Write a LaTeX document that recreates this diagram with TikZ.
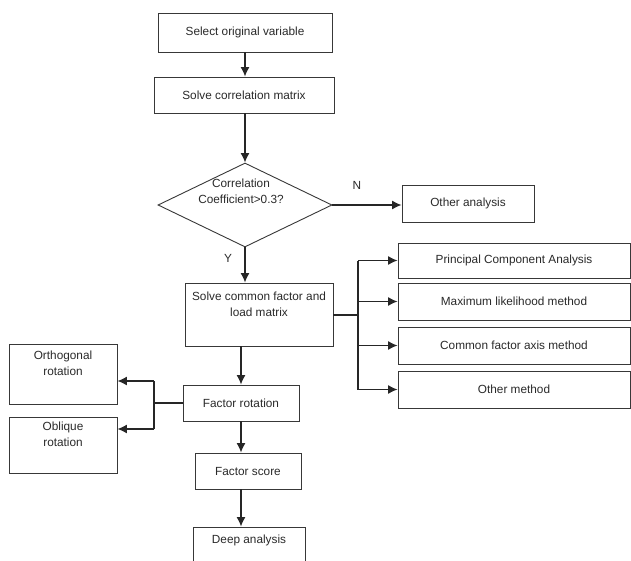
\documentclass[tikz,border=0pt]{standalone}
\usepackage{fontspec}
\setmainfont{Liberation Sans}
\usetikzlibrary{shapes.geometric,arrows.meta}
\definecolor{boxline}{HTML}{383838}
\definecolor{txt}{HTML}{2A2A2A}
\tikzset{
  box/.style={draw=boxline, line width=0.9pt, rectangle, inner sep=0pt, align=center,
    text=txt, font=\fontsize{11.8}{16}\selectfont},
  lbl/.style={text=txt, inner sep=0pt, font=\fontsize{11.8}{16}\selectfont, align=center},
  conn/.style={draw=black!85, line width=1.3pt},
  arr/.style={conn, -{Latex[length=9.5pt,width=9pt]}},
}
\begin{document}
\begin{tikzpicture}[x=1pt,y=1pt]
\useasboundingbox (0,0) rectangle (631,-561);
\fill[white] (0,0) rectangle (631,-561);

\node[box, minimum width=174pt, minimum height=39pt] (sel) at (245,-32.5) {Select original variable};
\node[box, minimum width=180pt, minimum height=36pt] (corr) at (244,-95) {Solve correlation matrix};
\node[draw=boxline, line width=0.9pt, diamond, aspect=2.07, inner sep=0pt,
      minimum width=174pt, minimum height=84pt] (dia) at (245,-205) {};
\node[lbl] (dtext) at (241,-191) {Correlation\\Coefficient>0.3?};
\node[lbl] (nlab) at (357,-185) {N};
\node[lbl] (ylab) at (228,-258) {Y};
\node[box, minimum width=132pt, minimum height=37pt] (other) at (468,-203.5) {Other analysis};

\node[box, minimum width=148pt, minimum height=63pt] (common) at (259,-314.5) {Solve common factor and\\load matrix\\ \strut};

\node[box, minimum width=232pt, minimum height=35pt] (pca) at (514,-260.5) {Principal Component Analysis};
\node[box, minimum width=232pt, minimum height=37pt] (ml) at (514,-301.5) {Maximum likelihood method};
\node[box, minimum width=232pt, minimum height=37pt] (cfa) at (514,-345.5) {Common factor axis method};
\node[box, minimum width=232pt, minimum height=37pt] (om) at (514,-389.5) {Other method};

\node[box, minimum width=116pt, minimum height=36pt] (frot) at (241,-403) {Factor rotation};
\node[box, minimum width=108pt, minimum height=60pt] (orth) at (63,-374) {Orthogonal\\rotation\\ \strut};
\node[box, minimum width=108pt, minimum height=56pt] (obl) at (63,-445) {Oblique\\rotation\\ \strut};
\node[box, minimum width=106pt, minimum height=36pt] (fscore) at (248,-471) {Factor score};
\node[box, minimum width=112pt, minimum height=46pt] (deep) at (249,-550) {Deep analysis\\ \strut};

% main flow
\draw[arr] (sel.south) -- (sel.south |- corr.north);
\draw[arr] (corr.south -| dia.north) -- (dia.north);
\draw[arr] (dia.east) -- (dia.east -| other.west);
\draw[arr] (dia.south) -- (dia.south |- common.north);

% method branch
\coordinate (mb) at (358,-315);
\coordinate (mtop) at (358,-260.5);
\coordinate (mbot) at (358,-389.5);
\draw[conn] (common.east |- mb) -- (mb);
\draw[conn] (mtop) -- (mbot);
\draw[arr] (mtop) -- (pca.west);
\draw[arr] (mtop |- ml.west) -- (ml.west);
\draw[arr] (mtop |- cfa.west) -- (cfa.west);
\draw[arr] (mbot) -- (om.west);

% rotation
\draw[arr] (frot.north |- common.south) -- (frot.north);
\coordinate (rb) at (154,-403);
\coordinate (rtop) at (154,-381);
\coordinate (rbot) at (154,-429);
\draw[conn] (frot.west) -- (rb);
\draw[conn] (rtop) -- (rbot);
\draw[arr] (rtop) -- (rtop -| orth.east);
\draw[arr] (rbot) -- (rbot -| obl.east);

\draw[arr] (frot.south) -- (frot.south |- fscore.north);
\draw[arr] (fscore.south -| frot.south) -- (frot.south |- deep.north);
\end{tikzpicture}
\end{document}
